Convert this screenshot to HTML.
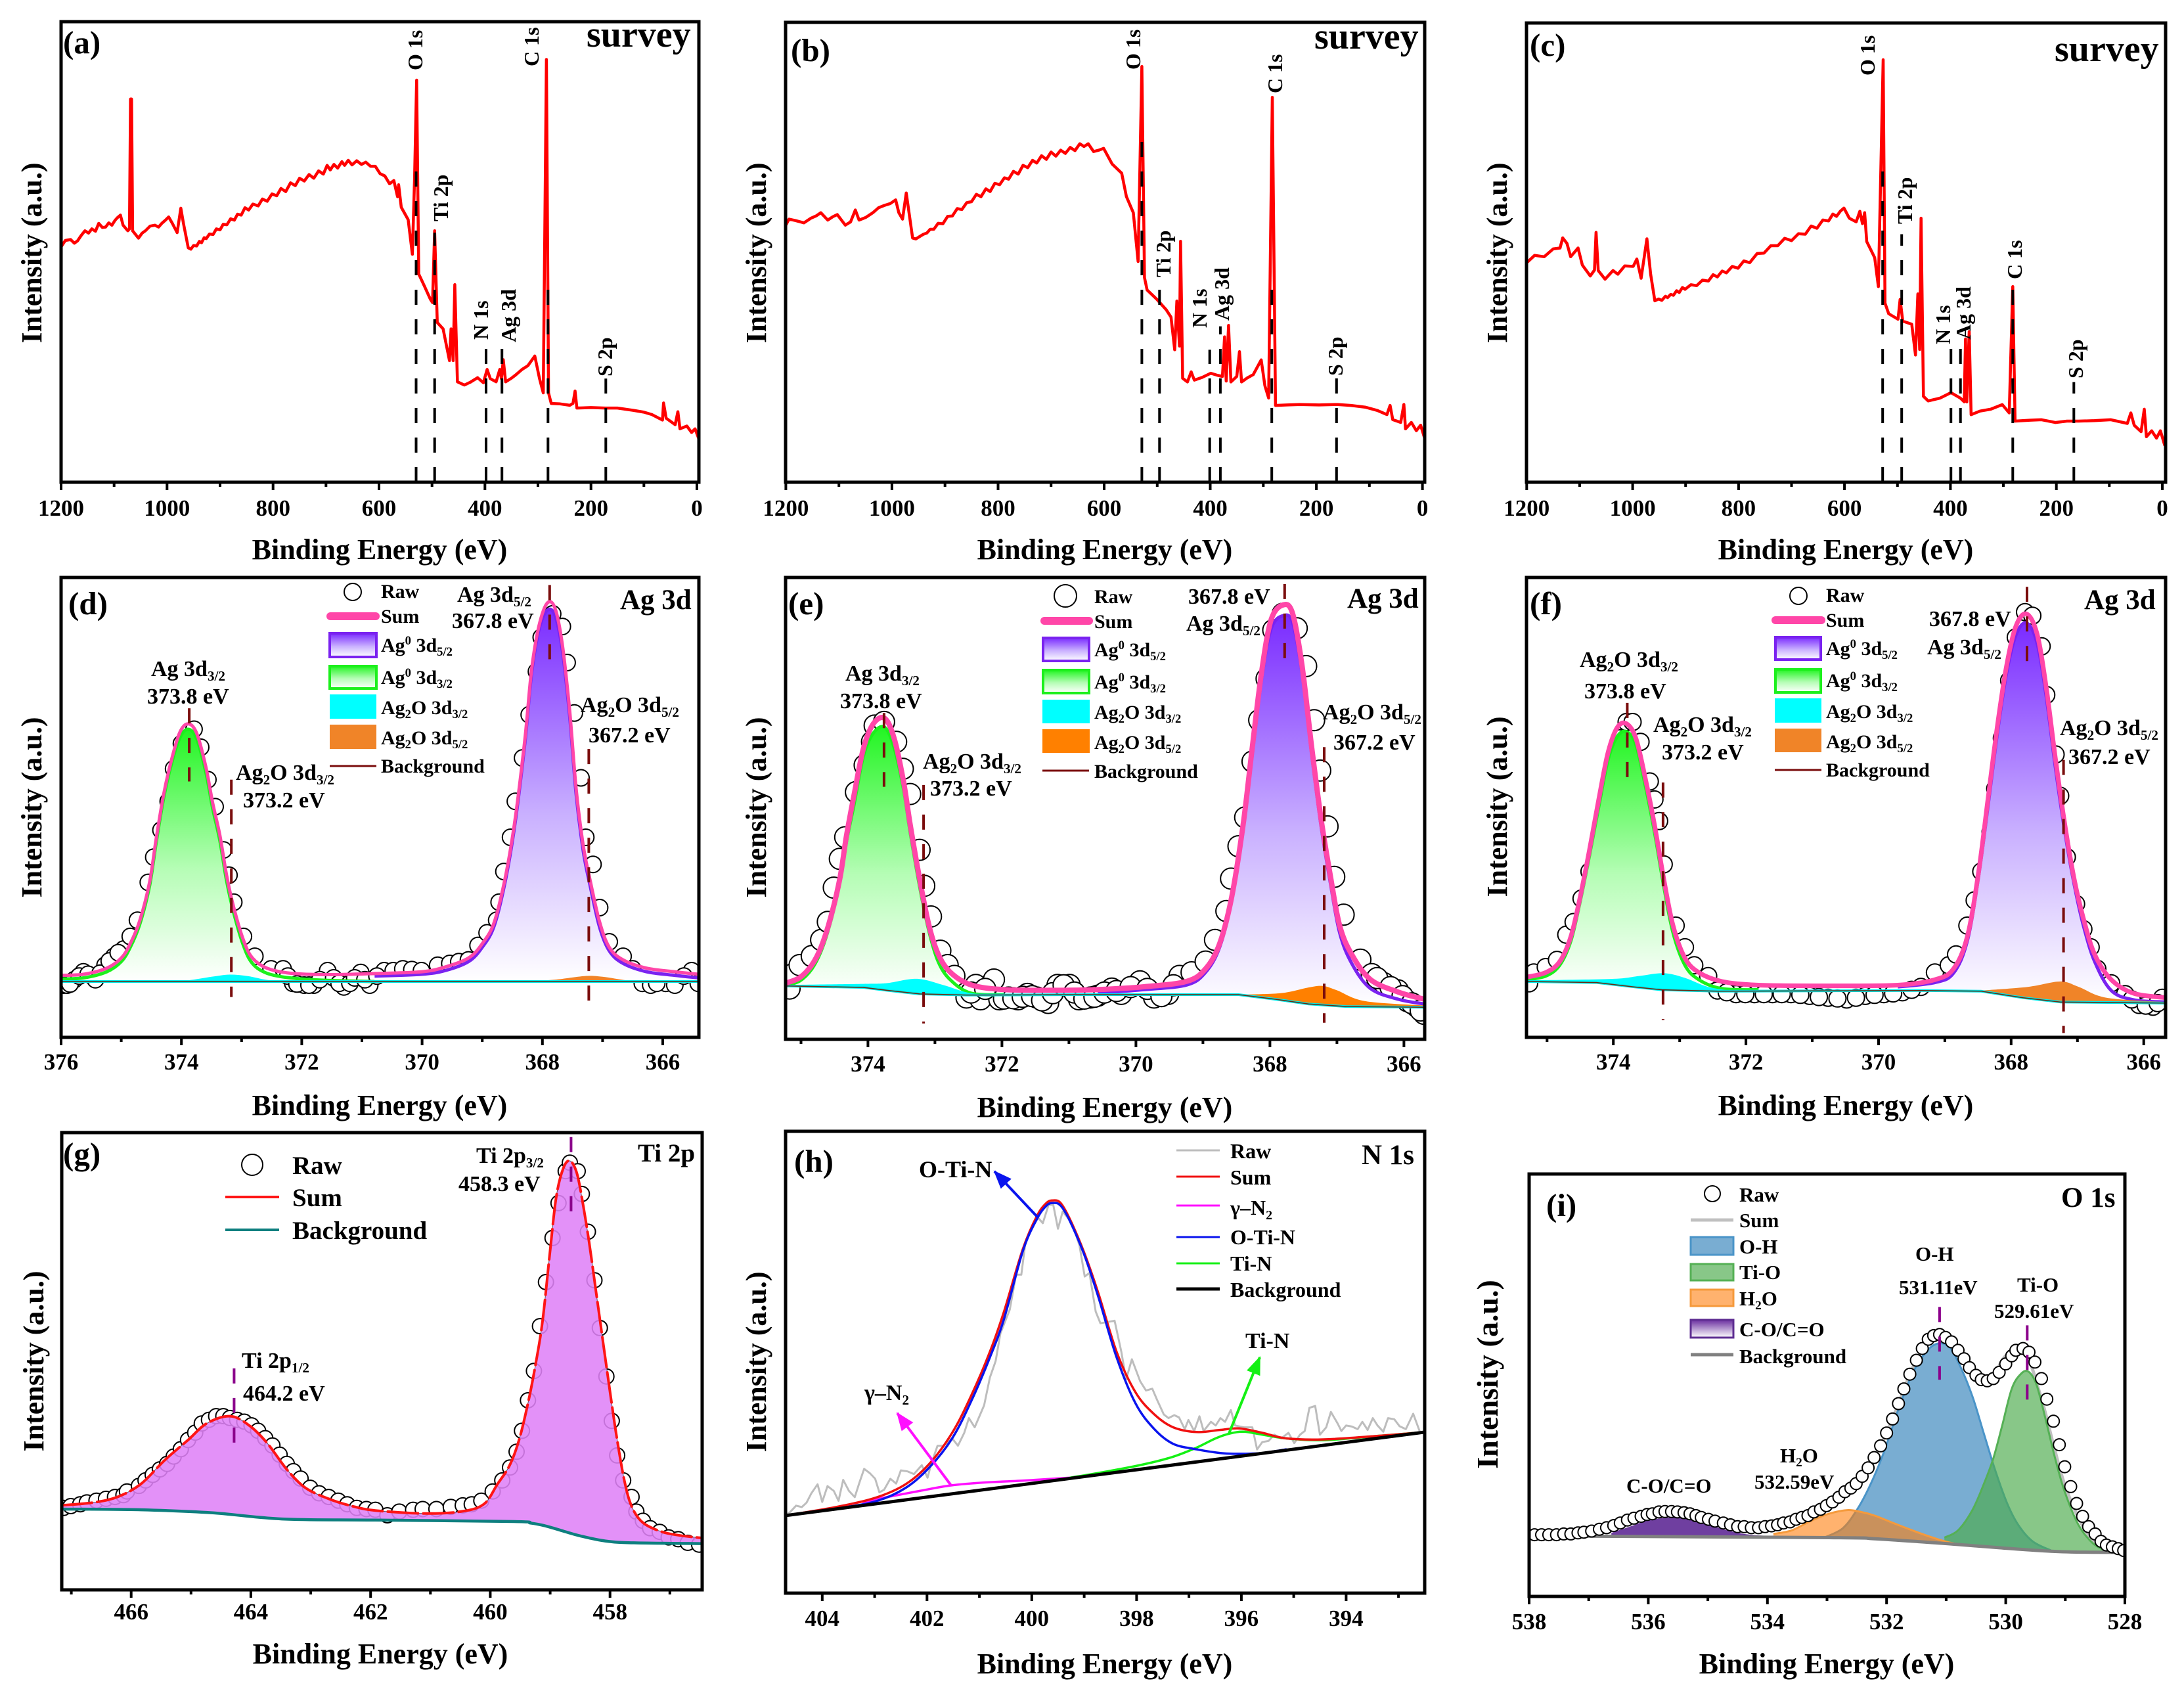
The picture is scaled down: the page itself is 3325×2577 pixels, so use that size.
<!DOCTYPE html>
<html lang="en">
<head>
<meta charset="utf-8">
<title>XPS spectra panels</title>
<style>
html,body{margin:0;padding:0;background:#fff}
svg{display:block}
text{font-family:"Liberation Serif",serif;font-weight:bold;fill:#000}
.at{font-size:44px}
.tk{font-size:35px}
.pl{font-size:49px}
.sv{font-size:56px}
.pk{font-size:32px}
.lg{font-size:30px}
.an{font-size:34px}
.rg{font-size:43px}
.l3{font-size:39px}
.l2{font-size:32px}
.i3{font-size:31px}
.s{font-size:62%}
</style>
</head>
<body>
<svg id="figure" xmlns="http://www.w3.org/2000/svg" width="3325" height="2577" viewBox="0 0 3325 2577">
<defs>
<linearGradient id="gradPurple" x1="0" y1="0" x2="0" y2="1"><stop offset="0" stop-color="#7a2bff"/><stop offset="0.55" stop-color="#c9b0ff"/><stop offset="1" stop-color="#ffffff"/></linearGradient>
<linearGradient id="gradGreen" x1="0" y1="0" x2="0" y2="1"><stop offset="0" stop-color="#22f522"/><stop offset="0.55" stop-color="#b5fdb5"/><stop offset="1" stop-color="#ffffff"/></linearGradient>
<linearGradient id="gradDeep" x1="0" y1="0" x2="0" y2="1"><stop offset="0" stop-color="#6a2fa0"/><stop offset="1" stop-color="#ffffff"/></linearGradient>
<clipPath id="clip-d"><rect x="93" y="879" width="971" height="700"/></clipPath>
<clipPath id="clip-e"><rect x="1196" y="879" width="973" height="703"/></clipPath>
<clipPath id="clip-f"><rect x="2324" y="879" width="973" height="700"/></clipPath>
<clipPath id="clip-g"><rect x="94" y="1724" width="975" height="696"/></clipPath>
<clipPath id="clip-h"><rect x="1196" y="1722" width="973" height="703"/></clipPath>
<clipPath id="clip-i"><rect x="2328" y="1787" width="907" height="643"/></clipPath>
<marker id="headBlue" markerUnits="userSpaceOnUse" markerWidth="30" markerHeight="24" refX="26" refY="12" orient="auto"><path d="M0 1 L28 12 L0 23 Z" fill="#0a14ee"/></marker>
<marker id="headMagenta" markerUnits="userSpaceOnUse" markerWidth="30" markerHeight="24" refX="26" refY="12" orient="auto"><path d="M0 1 L28 12 L0 23 Z" fill="#ff10ff"/></marker>
<marker id="headGreen" markerUnits="userSpaceOnUse" markerWidth="30" markerHeight="24" refX="26" refY="12" orient="auto"><path d="M0 1 L28 12 L0 23 Z" fill="#14f014"/></marker>
</defs>

<!-- Panel a -->
<g>
<g id="marks-a"></g>
<rect x="93" y="33" width="971" height="701" fill="none" stroke="#000" stroke-width="5"/>
<text class="pl" x="96" y="81">(a)</text>
<text class="sv" x="893" y="71">survey</text>
<text class="pk" transform="translate(643,107) rotate(-90)">O 1s</text>
<text class="pk" transform="translate(820,101) rotate(-90)">C 1s</text>
<text class="pk" transform="translate(682,337) rotate(-90)">Ti 2p</text>
<text class="pk" transform="translate(743,517) rotate(-90)">N 1s</text>
<text class="pk" transform="translate(785,521) rotate(-90)">Ag 3d</text>
<text class="pk" transform="translate(932,573) rotate(-90)">S 2p</text>
<text class="at" x="578" y="851" text-anchor="middle">Binding Energy (eV)</text>
<text class="at" transform="translate(63,385) rotate(-90)" text-anchor="middle">Intensity (a.u.)</text>
</g>

<!-- Panel b -->
<g>
<g id="marks-b"></g>
<rect x="1196" y="34" width="973" height="700" fill="none" stroke="#000" stroke-width="5"/>
<text class="pl" x="1204" y="93">(b)</text>
<text class="sv" x="2001" y="74">survey</text>
<text class="pk" transform="translate(1736,106) rotate(-90)">O 1s</text>
<text class="pk" transform="translate(1952,142) rotate(-90)">C 1s</text>
<text class="pk" transform="translate(1782,422) rotate(-90)">Ti 2p</text>
<text class="pk" transform="translate(1837,499) rotate(-90)">N 1s</text>
<text class="pk" transform="translate(1871,488) rotate(-90)">Ag 3d</text>
<text class="pk" transform="translate(2044,572) rotate(-90)">S 2p</text>
<text class="at" x="1682" y="851" text-anchor="middle">Binding Energy (eV)</text>
<text class="at" transform="translate(1166,385) rotate(-90)" text-anchor="middle">Intensity (a.u.)</text>
</g>

<!-- Panel c -->
<g>
<g id="marks-c"></g>
<rect x="2324" y="35" width="973" height="699" fill="none" stroke="#000" stroke-width="5"/>
<text class="pl" x="2329" y="85">(c)</text>
<text class="sv" x="3128" y="93">survey</text>
<text class="pk" transform="translate(2854,115) rotate(-90)">O 1s</text>
<text class="pk" transform="translate(3078,425) rotate(-90)">C 1s</text>
<text class="pk" transform="translate(2911,341) rotate(-90)">Ti 2p</text>
<text class="pk" transform="translate(2969,524) rotate(-90)">N 1s</text>
<text class="pk" transform="translate(3000,517) rotate(-90)">Ag 3d</text>
<text class="pk" transform="translate(3171,576) rotate(-90)">S 2p</text>
<text class="at" x="2810" y="851" text-anchor="middle">Binding Energy (eV)</text>
<text class="at" transform="translate(2294,385) rotate(-90)" text-anchor="middle">Intensity (a.u.)</text>
</g>

<!-- Panel d -->
<g>
<g id="marks-d" clip-path="url(#clip-d)"></g>
<rect x="93" y="879" width="971" height="700" fill="none" stroke="#000" stroke-width="5"/>
<text class="pl" x="104" y="935">(d)</text>
<text class="rg" x="944" y="927">Ag 3d</text>
<text class="an" x="230" y="1029">Ag 3d<tspan class="s" dy="7">3/2</tspan></text>
<text class="an" x="224" y="1071">373.8 eV</text>
<text class="an" x="359" y="1187">Ag<tspan class="s" dy="7">2</tspan><tspan dy="-7">O 3d</tspan><tspan class="s" dy="7">3/2</tspan></text>
<text class="an" x="370" y="1229">373.2 eV</text>
<text class="an" x="696" y="916">Ag 3d<tspan class="s" dy="7">5/2</tspan></text>
<text class="an" x="688" y="956">367.8 eV</text>
<text class="an" x="884" y="1084">Ag<tspan class="s" dy="7">2</tspan><tspan dy="-7">O 3d</tspan><tspan class="s" dy="7">5/2</tspan></text>
<text class="an" x="896" y="1130">367.2 eV</text>
<g>
<circle cx="537" cy="901" r="13" fill="#fff" stroke="#000" stroke-width="2"/>
<text class="lg" x="580" y="910">Raw</text>
<line x1="503" y1="938" x2="572" y2="938" stroke="#ff46a8" stroke-width="12" stroke-linecap="round"/>
<text class="lg" x="580" y="948">Sum</text>
<rect x="502" y="964" width="71" height="36" fill="url(#gradPurple)" stroke="#7a22f0" stroke-width="4"/>
<text class="lg" x="580" y="992">Ag<tspan class="s" dy="-11">0</tspan><tspan dy="11"> 3d</tspan><tspan class="s" dy="6">5/2</tspan></text>
<rect x="502" y="1014" width="71" height="34" fill="url(#gradGreen)" stroke="#1cf01c" stroke-width="4"/>
<text class="lg" x="580" y="1041">Ag<tspan class="s" dy="-11">0</tspan><tspan dy="11"> 3d</tspan><tspan class="s" dy="6">3/2</tspan></text>
<rect x="502" y="1057" width="71" height="37" fill="#00ffff"/>
<text class="lg" x="580" y="1087">Ag<tspan class="s" dy="6">2</tspan><tspan dy="-6">O 3d</tspan><tspan class="s" dy="6">3/2</tspan></text>
<rect x="502" y="1103" width="71" height="37" fill="#f08428"/>
<text class="lg" x="580" y="1133">Ag<tspan class="s" dy="6">2</tspan><tspan dy="-6">O 3d</tspan><tspan class="s" dy="6">5/2</tspan></text>
<line x1="502" y1="1166" x2="573" y2="1166" stroke="#7a0c0c" stroke-width="3"/>
<text class="lg" x="580" y="1176">Background</text>
</g>
<text class="at" x="578" y="1697" text-anchor="middle">Binding Energy (eV)</text>
<text class="at" transform="translate(63,1229) rotate(-90)" text-anchor="middle">Intensity (a.u.)</text>
</g>

<!-- Panel e -->
<g>
<g id="marks-e" clip-path="url(#clip-e)"></g>
<rect x="1196" y="879" width="973" height="703" fill="none" stroke="#000" stroke-width="5"/>
<text class="pl" x="1200" y="935">(e)</text>
<text class="rg" x="2051" y="925">Ag 3d</text>
<text class="an" x="1287" y="1036">Ag 3d<tspan class="s" dy="7">3/2</tspan></text>
<text class="an" x="1279" y="1078">373.8 eV</text>
<text class="an" x="1405" y="1170">Ag<tspan class="s" dy="7">2</tspan><tspan dy="-7">O 3d</tspan><tspan class="s" dy="7">3/2</tspan></text>
<text class="an" x="1416" y="1211">373.2 eV</text>
<text class="an" x="1809" y="919">367.8 eV</text>
<text class="an" x="1806" y="960">Ag 3d<tspan class="s" dy="7">5/2</tspan></text>
<text class="an" x="2014" y="1095">Ag<tspan class="s" dy="7">2</tspan><tspan dy="-7">O 3d</tspan><tspan class="s" dy="7">5/2</tspan></text>
<text class="an" x="2030" y="1141">367.2 eV</text>
<g>
<circle cx="1622" cy="907" r="17" fill="#fff" stroke="#000" stroke-width="2"/>
<text class="lg" x="1666" y="918">Raw</text>
<line x1="1590" y1="945" x2="1658" y2="945" stroke="#ff46a8" stroke-width="12" stroke-linecap="round"/>
<text class="lg" x="1666" y="956">Sum</text>
<rect x="1588" y="971" width="70" height="35" fill="url(#gradPurple)" stroke="#7a22f0" stroke-width="4"/>
<text class="lg" x="1666" y="999">Ag<tspan class="s" dy="-11">0</tspan><tspan dy="11"> 3d</tspan><tspan class="s" dy="6">5/2</tspan></text>
<rect x="1588" y="1020" width="70" height="35" fill="url(#gradGreen)" stroke="#1cf01c" stroke-width="4"/>
<text class="lg" x="1666" y="1048">Ag<tspan class="s" dy="-11">0</tspan><tspan dy="11"> 3d</tspan><tspan class="s" dy="6">3/2</tspan></text>
<rect x="1587" y="1065" width="72" height="36" fill="#00ffff"/>
<text class="lg" x="1666" y="1094">Ag<tspan class="s" dy="6">2</tspan><tspan dy="-6">O 3d</tspan><tspan class="s" dy="6">3/2</tspan></text>
<rect x="1587" y="1110" width="72" height="36" fill="#ff8000"/>
<text class="lg" x="1666" y="1140">Ag<tspan class="s" dy="6">2</tspan><tspan dy="-6">O 3d</tspan><tspan class="s" dy="6">5/2</tspan></text>
<line x1="1587" y1="1173" x2="1658" y2="1173" stroke="#7a0c0c" stroke-width="3"/>
<text class="lg" x="1666" y="1184">Background</text>
</g>
<text class="at" x="1682" y="1700" text-anchor="middle">Binding Energy (eV)</text>
<text class="at" transform="translate(1166,1229) rotate(-90)" text-anchor="middle">Intensity (a.u.)</text>
</g>

<!-- Panel f -->
<g>
<g id="marks-f" clip-path="url(#clip-f)"></g>
<rect x="2324" y="879" width="973" height="700" fill="none" stroke="#000" stroke-width="5"/>
<text class="pl" x="2329" y="935">(f)</text>
<text class="rg" x="3173" y="927">Ag 3d</text>
<text class="an" x="2405" y="1015">Ag<tspan class="s" dy="7">2</tspan><tspan dy="-7">O 3d</tspan><tspan class="s" dy="7">3/2</tspan></text>
<text class="an" x="2412" y="1063">373.8 eV</text>
<text class="an" x="2517" y="1114">Ag<tspan class="s" dy="7">2</tspan><tspan dy="-7">O 3d</tspan><tspan class="s" dy="7">3/2</tspan></text>
<text class="an" x="2530" y="1156">373.2 eV</text>
<text class="an" x="2937" y="953">367.8 eV</text>
<text class="an" x="2934" y="996">Ag 3d<tspan class="s" dy="7">5/2</tspan></text>
<text class="an" x="3136" y="1119">Ag<tspan class="s" dy="7">2</tspan><tspan dy="-7">O 3d</tspan><tspan class="s" dy="7">5/2</tspan></text>
<text class="an" x="3149" y="1163">367.2 eV</text>
<g>
<circle cx="2738" cy="907" r="13" fill="#fff" stroke="#000" stroke-width="2"/>
<text class="lg" x="2780" y="916">Raw</text>
<line x1="2703" y1="944" x2="2773" y2="944" stroke="#ff46a8" stroke-width="12" stroke-linecap="round"/>
<text class="lg" x="2780" y="954">Sum</text>
<rect x="2703" y="970" width="69" height="34" fill="url(#gradPurple)" stroke="#7a22f0" stroke-width="4"/>
<text class="lg" x="2780" y="997">Ag<tspan class="s" dy="-11">0</tspan><tspan dy="11"> 3d</tspan><tspan class="s" dy="6">5/2</tspan></text>
<rect x="2703" y="1019" width="69" height="35" fill="url(#gradGreen)" stroke="#1cf01c" stroke-width="4"/>
<text class="lg" x="2780" y="1046">Ag<tspan class="s" dy="-11">0</tspan><tspan dy="11"> 3d</tspan><tspan class="s" dy="6">3/2</tspan></text>
<rect x="2702" y="1063" width="71" height="37" fill="#00ffff"/>
<text class="lg" x="2780" y="1093">Ag<tspan class="s" dy="6">2</tspan><tspan dy="-6">O 3d</tspan><tspan class="s" dy="6">3/2</tspan></text>
<rect x="2702" y="1109" width="71" height="36" fill="#f08428"/>
<text class="lg" x="2780" y="1139">Ag<tspan class="s" dy="6">2</tspan><tspan dy="-6">O 3d</tspan><tspan class="s" dy="6">5/2</tspan></text>
<line x1="2702" y1="1172" x2="2773" y2="1172" stroke="#7a0c0c" stroke-width="3"/>
<text class="lg" x="2780" y="1182">Background</text>
</g>
<text class="at" x="2810" y="1697" text-anchor="middle">Binding Energy (eV)</text>
<text class="at" transform="translate(2294,1228) rotate(-90)" text-anchor="middle">Intensity (a.u.)</text>
</g>

<!-- Panel g -->
<g>
<g id="marks-g" clip-path="url(#clip-g)"></g>
<rect x="94" y="1724" width="975" height="696" fill="none" stroke="#000" stroke-width="5"/>
<text class="pl" x="96" y="1773">(g)</text>
<text class="l3" x="971" y="1768">Ti 2p</text>
<text class="an" x="725" y="1770">Ti 2p<tspan class="s" dy="7">3/2</tspan></text>
<text class="an" x="698" y="1813">458.3 eV</text>
<text class="an" x="368" y="2082">Ti 2p<tspan class="s" dy="7">1/2</tspan></text>
<text class="an" x="370" y="2132">464.2 eV</text>
<g>
<circle cx="384" cy="1773" r="16" fill="#fff" stroke="#000" stroke-width="2"/>
<text class="l3" x="445" y="1787">Raw</text>
<line x1="343" y1="1822" x2="425" y2="1822" stroke="#ff1515" stroke-width="4"/>
<text class="l3" x="445" y="1836">Sum</text>
<line x1="343" y1="1872" x2="425" y2="1872" stroke="#0e7f7f" stroke-width="4"/>
<text class="l3" x="445" y="1886">Background</text>
</g>
<text class="at" x="579" y="2532" text-anchor="middle">Binding Energy (eV)</text>
<text class="at" transform="translate(66,2072) rotate(-90)" text-anchor="middle">Intensity (a.u.)</text>
</g>

<!-- Panel h -->
<g>
<g id="marks-h" clip-path="url(#clip-h)"></g>
<line x1="1579" y1="1852" x2="1514" y2="1783" stroke="#0a14ee" stroke-width="4" marker-end="url(#headBlue)"/>
<line x1="1448" y1="2261" x2="1366" y2="2151" stroke="#ff10ff" stroke-width="4" marker-end="url(#headMagenta)"/>
<line x1="1871" y1="2182" x2="1918" y2="2066" stroke="#14f014" stroke-width="4" marker-end="url(#headGreen)"/>
<rect x="1196" y="1722" width="973" height="703" fill="none" stroke="#000" stroke-width="5"/>
<text class="pl" x="1209" y="1784">(h)</text>
<text class="rg" x="2073" y="1772">N 1s</text>
<text class="an" x="1399" y="1792" style="font-size:36px">O-Ti-N</text>
<text class="an" x="1316" y="2131">γ–N<tspan class="s" dy="7">2</tspan></text>
<text class="an" x="1896" y="2052">Ti-N</text>
<g>
<line x1="1791" y1="1751" x2="1857" y2="1751" stroke="#bdbdbd" stroke-width="3"/>
<text class="l2" x="1873" y="1763">Raw</text>
<line x1="1791" y1="1791" x2="1857" y2="1791" stroke="#f01010" stroke-width="3"/>
<text class="l2" x="1873" y="1803">Sum</text>
<line x1="1791" y1="1835" x2="1857" y2="1835" stroke="#ff10ff" stroke-width="3"/>
<text class="l2" x="1873" y="1849">γ–N<tspan class="s" dy="7">2</tspan></text>
<line x1="1791" y1="1883" x2="1857" y2="1883" stroke="#0a14ee" stroke-width="3"/>
<text class="l2" x="1873" y="1894">O-Ti-N</text>
<line x1="1791" y1="1923" x2="1857" y2="1923" stroke="#14f014" stroke-width="3"/>
<text class="l2" x="1873" y="1934">Ti-N</text>
<line x1="1791" y1="1962" x2="1857" y2="1962" stroke="#000" stroke-width="5"/>
<text class="l2" x="1873" y="1974">Background</text>
</g>
<text class="at" x="1682" y="2547" text-anchor="middle">Binding Energy (eV)</text>
<text class="at" transform="translate(1166,2073) rotate(-90)" text-anchor="middle">Intensity (a.u.)</text>
</g>

<!-- Panel i -->
<g>
<g id="marks-i" clip-path="url(#clip-i)"></g>
<rect x="2328" y="1787" width="907" height="643" fill="none" stroke="#000" stroke-width="5"/>
<text class="pl" x="2354" y="1851">(i)</text>
<text class="rg" x="3138" y="1837">O 1s</text>
<text class="i3" x="2916" y="1919">O-H</text>
<text class="i3" x="2891" y="1970">531.11eV</text>
<text class="i3" x="3071" y="1966">Ti-O</text>
<text class="i3" x="3036" y="2006">529.61eV</text>
<text class="i3" x="2710" y="2226">H<tspan class="s" dy="6">2</tspan><tspan dy="-6">O</tspan></text>
<text class="i3" x="2671" y="2266">532.59eV</text>
<text class="i3" x="2476" y="2272">C-O/C=O</text>
<g>
<circle cx="2607" cy="1817" r="12" fill="#fff" stroke="#000" stroke-width="2"/>
<text class="i3" x="2648" y="1829">Raw</text>
<line x1="2574" y1="1857" x2="2639" y2="1857" stroke="#c0c0c0" stroke-width="5"/>
<text class="i3" x="2648" y="1868">Sum</text>
<rect x="2574" y="1883" width="65" height="27" fill="#79add2" stroke="#4a94c8" stroke-width="3"/>
<text class="i3" x="2648" y="1908">O-H</text>
<rect x="2574" y="1924" width="65" height="25" fill="#88c788" stroke="#55b055" stroke-width="3"/>
<text class="i3" x="2648" y="1947">Ti-O</text>
<rect x="2574" y="1963" width="65" height="25" fill="#ffb26e" stroke="#f59a3c" stroke-width="3"/>
<text class="i3" x="2648" y="1987">H<tspan class="s" dy="6">2</tspan><tspan dy="-6">O</tspan></text>
<rect x="2574" y="2009" width="65" height="27" fill="url(#gradDeep)" stroke="#5e2d91" stroke-width="3"/>
<text class="i3" x="2648" y="2034">C-O/C=O</text>
<line x1="2574" y1="2062" x2="2639" y2="2062" stroke="#808080" stroke-width="5"/>
<text class="i3" x="2648" y="2075">Background</text>
</g>
<text class="at" x="2781" y="2547" text-anchor="middle">Binding Energy (eV)</text>
<text class="at" style="font-size:46px" transform="translate(2280,2092) rotate(-90)" text-anchor="middle">Intensity (a.u.)</text>
</g>
<g id="ticks-layer"></g>
</svg>

<script>
/* ---------- tick values ---------- */
const surveyMajorTicks = [1200,1000,800,600,400,200,0];
const surveyMinorTicks = [1100,900,700,500,300,100];
const ag3dMajorTicksD = [376,374,372,370,368,366];
const ag3dMinorTicksD = [375,373,371,369,367];
const ag3dMajorTicksEF = [374,372,370,368,366];
const ag3dMinorTicksEF = [375,373,371,369,367];
const ti2pMajorTicks = [466,464,462,460,458];
const ti2pMinorTicks = [467,465,463,461,459,457];
const n1sMajorTicks = [404,402,400,398,396,394];
const n1sMinorTicks = [403,401,399,397,395,393];
const o1sMajorTicks = [538,536,534,532,530,528];
const o1sMinorTicks = [537,535,533,531,529];

/* ---------- survey spectra: [binding energy eV, intensity a.u.] ---------- */
const surveyA = [[1200,51.1],[1192,52.5],[1182,52.7],[1175,51.9],[1169,52.4],[1162,53.6],[1155,54.6],[1148,54.1],[1142,55],[1135,54.5],[1129,56.2],[1122,55.3],[1116,55.4],[1110,56.3],[1104,55.8],[1098,56.9],[1094,57.4],[1088,58],[1083,55.8],[1074,54.6],[1071,55],[1069,83.2],[1067,83.2],[1065,54.6],[1054,53],[1047,54.1],[1041,54.6],[1032,55.6],[1023,55.8],[1016,55.4],[1010,56.2],[1003,56.9],[997,57.6],[990,56.2],[981,54.2],[974,59.5],[969,56.2],[960,50.9],[955,50.6],[950,51.4],[944,51.3],[939,52.3],[935,52],[930,53.1],[926,52.9],[920,53.9],[913,53.8],[907,55],[900,54.8],[894,56],[887,55.9],[880,57.2],[873,56.9],[867,58.2],[860,58],[853,59.6],[846,59.1],[838,60.4],[828,60],[820,61.5],[811,61],[802,62.6],[793,62.2],[785,63.8],[776,63.1],[767,65],[758,64.4],[750,66],[741,65.4],[732,66.8],[723,66],[714,67.6],[705,66.9],[698,68.8],[692,67.8],[685,69],[678,68.2],[670,69.6],[665,68.8],[658,69.9],[651,68.9],[642,69.8],[633,69],[625,69.5],[616,68.6],[607,68.6],[598,67],[589,66.5],[580,64.8],[572,65.5],[565,62],[563,64.6],[558,59.7],[545,57],[537,49.5],[533,65.6],[529,87.3],[525,45.2],[514,42.5],[503,39.7],[499,39],[495,54.6],[490,34.7],[479,33.3],[467,26.4],[464,33.3],[460,26.4],[457,42.9],[452,21.8],[439,21.1],[428,21.7],[414,22.7],[403,21.6],[396,24.5],[390,22.5],[379,21.8],[372,24.5],[369,22.5],[365.5,26.6],[361,21.8],[350,22.6],[342,23.3],[330,24.5],[319,25.3],[306,27.4],[297,22.5],[290,19.4],[284,91.8],[280,19.4],[275,17.1],[258,17],[240,16.7],[234,17.1],[230,19.8],[226.5,16.1],[200,16.2],[173,16.1],[150,16.1],[120,15.6],[100,15.2],[85,14.7],[65,13.5],[63,17.2],[58,13.9],[41,12.5],[36,15.3],[32,11.6],[19,12.2],[10,10.8],[3.5,11.6],[-3,9.6]];
const surveyB = [[1200,55.9],[1194,57.2],[1182,56.9],[1166,56.4],[1153,57.4],[1143,57.9],[1134,58.6],[1121,57],[1112,57.7],[1103,58.2],[1088,55.9],[1078,56.6],[1069,59.2],[1062,57],[1049,57.6],[1036,58.6],[1025,59.7],[1014,60.2],[1003,60.6],[993,61.4],[987,58.6],[980,57.2],[973,62.9],[961,53.1],[955,52.9],[948,53.4],[941,53.9],[934,54.2],[928,55],[921,55],[913,56.3],[904,56.2],[895,57.8],[886,57.9],[877,59.5],[868,59.3],[859,60.8],[850,61],[841,62.6],[832,62.1],[823,63.8],[815,63.2],[806,65],[797,64.7],[788,66.2],[780,65.9],[771,67.6],[762,67],[753,68.9],[744,68.4],[735,70],[727,69.4],[718,71],[709,70.2],[700,71.8],[691,70.9],[682,72.2],[673,71.5],[664,72.8],[655,72.1],[646,73.6],[638,73],[630,73.6],[620,71.9],[610,72.2],[601,72.6],[585,69.2],[567,67.2],[558,62.1],[545,58.6],[536,48],[529,90.4],[524,44.5],[519,41.8],[501,39.8],[483,37.5],[474,35.9],[467,28.8],[463,39.4],[458,29.6],[456,52.4],[452,22.6],[443,21.8],[436,24],[430,22.2],[415,22.8],[399,23.7],[388,23.3],[377,23],[373,31.6],[370,22],[365.5,34.1],[361,21.8],[350,23],[345,28.4],[341,21.8],[330,22.7],[319,23.4],[304,26.6],[297,21],[290,18.3],[283,83.7],[277,16.7],[255,16.8],[231,16.9],[195,16.8],[160,16.9],[135,16.7],[107,16.3],[85,15.6],[67,14.7],[61,16.7],[56,13.6],[41,13],[35,16.9],[32,11.6],[21,13],[11.5,11.2],[3.5,12.4],[-3.5,9.8]];
const surveyC = [[1198,48],[1185,49.4],[1167,49.1],[1150,50.8],[1137,51],[1132,53.2],[1124,52],[1117,49.1],[1103,51],[1095,47.3],[1080,44.9],[1072,46.2],[1069,54.4],[1065,46.1],[1052,44.2],[1037,46.1],[1028,45.3],[1015,47.1],[999,47],[992,48.6],[984,44.4],[973,53],[966,45.3],[958,39.5],[951,39.9],[945,39.6],[938,40.5],[934,40.2],[928,40.9],[923,40.7],[917,41.7],[912,41.3],[906,42.4],[901,42],[890,43],[879,42.8],[868,44],[857,43.8],[848,45.2],[840,44.7],[831,46],[823,45.6],[812,47],[801,46.6],[790,48.2],[779,47.8],[765,49.8],[752,49.9],[739,51.5],[726,51.5],[713,53.1],[700,52.6],[687,54.1],[674,54],[663,55.8],[652,55.3],[641,57.1],[630,56.9],[622,58.4],[615,57.9],[608,59],[601,59.7],[591,57.5],[578,56.7],[571,59],[566,56.3],[562,58.7],[558,52.4],[543,48.9],[536,42.6],[527,92],[523.5,39],[516.6,36.7],[499,35.5],[495,39.8],[490,35.1],[473,34.4],[466,27.7],[461.5,41],[458,28.9],[455.4,57.5],[451,18.7],[442,17.7],[420,18.3],[399,19.5],[381,18.3],[374,17.5],[371.5,31.2],[369,17.5],[364.5,32.8],[361,14.7],[344,15.5],[324,15.9],[302,16.9],[289,15.1],[282.3,42.6],[278,13.3],[250,13.5],[228,13.6],[202,13],[180,13.3],[158,13.3],[128,13.4],[97,13.6],[66,12.8],[59.4,15.1],[53,12.4],[40,11],[34,15.9],[30,9.9],[20,11.2],[11,9.6],[3.5,11.2],[-4.4,8.1]];

/* survey guide lines: [binding energy, intensity at upper end] */
const surveyGuidesA = [[530,67.9],[495,54.2],[398,29.6],[368,29.6],[281,42.1],[172,22.5]];
const surveyGuidesB = [[529,74.3],[495.6,42.9],[401,28.8],[381,33.9],[284,42.2],[162,22.6]];
const surveyGuidesC = [[528,68.1],[492,54],[399,29.6],[381,30.4],[282.3,42.2],[167,21.8]];

/* ---------- panel d ---------- */
const rawD = [[375.96,145],[375.9,145],[375.78,160],[375.63,182],[375.43,160],[375.27,200],[375.12,225],[374.96,245],[374.85,280],[374.73,325],[374.55,430],[374.46,500],[374.34,575],[374.22,655],[374.13,745],[374,815],[373.79,855],[373.68,805],[373.56,715],[373.44,640],[373.3,520],[373.21,450],[373.13,375],[372.97,280],[372.78,225],[372.51,190],[372.31,190],[372.15,150],[371.96,145],[371.8,145],[371.57,185],[371.3,140],[371.02,180],[370.87,145],[370.63,185],[370.48,185],[370.32,190],[370.17,188],[370.01,185],[369.74,200],[369.54,205],[369.39,210],[369.23,215],[369.07,255],[368.92,290],[368.76,325],[368.72,375],[368.64,460],[368.53,555],[368.45,655],[368.33,775],[368.22,895],[368.1,1015],[368.02,1110],[367.83,1175],[367.67,1140],[367.59,1040],[367.47,900],[367.36,720],[367.28,555],[367.16,480],[367.05,360],[366.89,265],[366.66,225],[366.34,150],[365.95,150],[365.8,145],[365.52,185],[365.41,150],[375.85,148],[375.7,170],[375.55,175],[375.35,178],[375.2,212],[375.05,235],[372.23,170],[372.08,148],[371.88,145],[371.7,160],[371.47,165],[371.38,150],[371.2,150],[371.12,165],[370.95,160],[370.75,170],[366.5,190],[366.2,145],[366.1,150],[365.65,170]];
const sumD = [[376.02,172],[375.63,175],[375.24,192],[375,220],[374.85,260],[374.69,325],[374.53,430],[374.42,550],[374.3,670],[374.18,760],[374.03,845],[373.89,870],[373.75,845],[373.6,755],[373.48,650],[373.36,560],[373.25,450],[373.13,360],[372.97,270],[372.82,220],[372.58,192],[372.19,178],[371.57,174],[370.79,177],[370.01,182],[369.62,195],[369.23,220],[369,260],[368.8,320],[368.61,450],[368.45,610],[368.29,830],[368.18,1020],[368.06,1140],[367.92,1205],[367.79,1190],[367.67,1090],[367.55,910],[367.44,690],[367.32,530],[367.2,430],[367.05,320],[366.89,250],[366.66,215],[366.27,192],[365.8,182],[365.41,175]];
const greenD = [[376.02,162],[375.63,165],[375.24,182],[375,210],[374.85,250],[374.69,315],[374.53,420],[374.42,540],[374.3,660],[374.18,750],[374.03,830],[373.89,855],[373.75,830],[373.6,740],[373.48,635],[373.36,545],[373.25,435],[373.13,345],[372.97,255],[372.82,205],[372.58,178],[372.19,165],[371.57,158],[370.79,155]];
const purpleD = [[370.79,170],[370.01,175],[369.62,185],[369.23,210],[369,250],[368.8,310],[368.61,440],[368.45,600],[368.29,820],[368.18,1010],[368.06,1130],[367.92,1185],[367.79,1170],[367.67,1075],[367.55,895],[367.44,675],[367.32,515],[367.2,415],[367.05,305],[366.89,240],[366.66,205],[366.27,182],[365.8,172],[365.41,165]];
const cyanD = [[374.3,155],[373.9,158],[373.5,168],[373.2,174],[372.9,170],[372.6,160],[372.3,155]];
const orangeD = [[368.3,155],[367.8,160],[367.3,170],[367,168],[366.6,158],[366.3,155]];
const backgroundD = [[376.02,155],[365.41,155]];
const guidesD = [[373.87,913,710],[373.17,715,112],[367.88,1255,1045],[367.23,800,102]];

/* ---------- panel e ---------- */
const rawE = [[375.17,141],[375.12,181],[375.02,206],[374.84,231],[374.7,276],[374.6,326],[374.51,421],[374.42,501],[374.34,561],[374.18,686],[374.05,761],[373.94,826],[373.9,871],[373.76,881],[373.58,826],[373.48,751],[373.37,681],[373.23,526],[373.16,426],[373.06,341],[372.92,246],[372.81,206],[372.71,176],[372.53,116],[372.39,151],[372.32,111],[372.12,166],[372.04,111],[371.9,116],[371.76,111],[371.62,126],[371.48,116],[371.31,101],[371.17,151],[370.99,151],[370.85,111],[370.68,116],[370.57,121],[370.36,141],[370.22,126],[369.94,161],[369.73,116],[369.52,126],[369.35,176],[369.17,186],[368.96,216],[368.82,276],[368.65,356],[368.58,446],[368.47,536],[368.37,616],[368.26,771],[368.16,886],[368.05,1001],[367.95,1136],[367.81,1181],[367.6,1141],[367.46,1036],[367.34,886],[367.25,746],[367.14,591],[367.04,451],[366.9,346],[366.65,221],[366.48,181],[366.3,156],[366.09,136],[365.95,106],[365.81,91],[365.7,71],[372.46,130],[372.25,140],[371.97,113],[371.83,114],[371.69,118],[371.55,120],[371.4,108],[371.24,128],[371.08,150],[370.92,130],[370.77,113],[370.62,118],[370.47,130],[370.29,134],[370.08,145],[369.83,140],[369.62,120],[369.44,150],[366.4,170],[366.2,145],[366.02,120],[365.88,100],[365.75,80]];
const sumE = [[375.23,156],[375.02,171],[374.84,206],[374.7,256],[374.56,336],[374.42,446],[374.32,566],[374.21,676],[374.07,806],[373.92,876],[373.75,891],[373.61,836],[373.47,716],[373.37,596],[373.23,446],[373.09,316],[372.95,236],[372.77,186],[372.46,151],[371.97,138],[371.27,136],[370.57,138],[369.87,146],[369.24,161],[368.96,196],[368.75,266],[368.57,396],[368.4,596],[368.26,816],[368.12,1026],[367.98,1166],[367.8,1206],[367.66,1181],[367.52,1036],[367.38,816],[367.24,616],[367.1,456],[366.96,316],[366.78,236],[366.5,166],[366.08,131],[365.69,111]];
const greenE = [[375.23,150],[375.02,162],[374.84,195],[374.7,245],[374.56,325],[374.42,435],[374.32,550],[374.21,650],[374.07,785],[373.92,850],[373.75,866],[373.61,810],[373.47,695],[373.37,575],[373.23,425],[373.09,300],[372.95,215],[372.77,165],[372.46,128],[371.97,124]];
const purpleE = [[370.57,128],[369.87,138],[369.24,151],[368.96,186],[368.75,256],[368.57,386],[368.4,581],[368.26,796],[368.12,1006],[367.98,1141],[367.8,1176],[367.66,1156],[367.52,1016],[367.38,796],[367.24,596],[367.1,436],[366.96,296],[366.78,211],[366.5,141],[366.08,111],[365.69,98]];
const cyanE = [[375.23,151],[374.07,154],[373.72,156],[373.27,168],[372.88,151],[372.46,128],[371.97,123]];
const orangeE = [[368.47,124],[367.84,128],[367.42,144],[367.21,148],[367,136],[366.58,106],[365.7,94]];
const backgroundE = [[375.23,148],[374.07,144],[373.72,136],[373.23,126],[372.53,123],[370.57,124],[368.47,124],[367.91,111],[367.42,98],[366.86,91],[365.7,89]];
const guidesE = [[373.76,906,701],[373.17,706,44],[367.78,1264,1056],[367.19,811,46]];

/* ---------- panel f ---------- */
const rawF = [[375.27,150],[375.2,180],[375.02,195],[374.85,215],[374.71,285],[374.6,320],[374.48,385],[374.36,460],[374.22,525],[374.11,660],[374.01,745],[373.9,830],[373.8,875],[373.71,875],[373.59,820],[373.45,710],[373.38,660],[373.31,600],[373.24,480],[373.06,310],[372.92,250],[372.78,200],[372.57,170],[372.43,130],[372.15,120],[371.87,120],[371.6,120],[371.32,120],[371.04,115],[370.76,110],[370.48,105],[370.2,115],[369.92,120],[369.64,125],[369.36,140],[369.15,180],[368.94,200],[368.83,230],[368.66,310],[368.55,380],[368.45,460],[368.31,570],[368.24,690],[368.14,830],[368.03,990],[367.93,1110],[367.79,1180],[367.68,1170],[367.54,1085],[367.47,950],[367.33,785],[367.26,670],[367.16,500],[367.02,370],[366.91,300],[366.8,250],[366.7,190],[366.28,120],[366.07,90],[365.86,85],[365.72,110],[372.29,125],[372.01,120],[371.73,120],[371.46,120],[371.18,118],[370.9,112],[370.62,108],[370.34,110],[370.06,118],[369.78,122],[369.5,132],[366.49,150],[366.18,105],[365.97,88],[365.79,95]];
const sumF = [[375.31,167],[375.02,180],[374.81,210],[374.64,280],[374.5,390],[374.36,520],[374.22,660],[374.08,790],[373.94,860],[373.8,870],[373.66,830],[373.52,720],[373.38,590],[373.24,440],[373.1,310],[372.92,220],[372.71,180],[372.36,155],[371.81,145],[370.76,143],[369.71,145],[369.15,160],[368.87,190],[368.66,280],[368.49,460],[368.35,660],[368.21,860],[368.07,1030],[367.93,1140],[367.77,1175],[367.61,1120],[367.47,970],[367.33,770],[367.19,590],[367.05,440],[366.91,330],[366.74,230],[366.49,160],[366.15,122],[365.67,110]];
const greenF = [[375.31,160],[375.02,170],[374.81,200],[374.64,268],[374.5,378],[374.36,505],[374.22,640],[374.08,770],[373.94,835],[373.8,848],[373.66,812],[373.52,700],[373.38,570],[373.24,420],[373.1,290],[372.92,200],[372.71,160],[372.36,135],[371.81,132]];
const purpleF = [[369.71,140],[369.15,152],[368.87,178],[368.66,268],[368.49,448],[368.35,640],[368.21,840],[368.07,1010],[367.93,1115],[367.77,1150],[367.61,1095],[367.47,945],[367.33,745],[367.19,570],[367.05,425],[366.91,310],[366.74,210],[366.49,130],[366.15,104],[365.67,98]];
const cyanF = [[375.31,158],[374.04,162],[373.62,170],[373.24,178],[372.92,165],[372.57,140],[372.15,128]];
const orangeF = [[368.45,130],[367.75,140],[367.26,155],[366.98,140],[366.56,110],[365.67,98]];
const backgroundF = [[375.31,155],[374.25,152],[373.69,140],[373.27,132],[372.43,128],[369.36,130],[368.45,128],[367.82,110],[367.26,98],[365.67,95]];
const guidesF = [[373.79,928,722],[373.25,707,48],[367.76,1250,1040],[367.21,770,12]];

/* ---------- panel g ---------- */
const rawG = [[467.13,223],[467.01,228],[466.85,233],[466.74,238],[466.58,243],[466.42,248],[466.27,253],[466.13,258],[466.07,268],[465.87,283],[465.76,298],[465.64,313],[465.52,328],[465.4,343],[465.29,363],[465.17,383],[465.05,408],[464.93,428],[464.82,453],[464.7,463],[464.58,473],[464.46,473],[464.35,468],[464.23,463],[464.11,458],[463.99,448],[463.88,433],[463.76,413],[463.64,393],[463.52,368],[463.4,343],[463.29,323],[463.17,303],[463.01,278],[462.86,263],[462.7,253],[462.54,243],[462.39,233],[462.23,223],[462.07,220],[461.92,218],[461.72,203],[461.52,213],[461.29,218],[461.13,220],[460.9,220],[460.66,226],[460.46,230],[460.31,233],[460.15,243],[459.96,268],[459.8,298],[459.67,333],[459.56,376],[459.47,433],[459.37,516],[459.27,596],[459.17,718],[459.07,838],[458.96,958],[458.86,1053],[458.74,1140],[458.67,1163],[458.54,1140],[458.47,1078],[458.37,975],[458.26,843],[458.17,713],[458.06,581],[457.97,460],[457.88,366],[457.78,298],[457.64,253],[457.56,213],[457.45,188],[457.33,168],[457.17,158],[457.02,143],[456.86,138],[456.7,128],[456.51,123]];
const sumG = [[467.16,230],[466.62,238],[466.23,253],[465.84,288],[465.44,353],[465.05,408],[464.74,453],[464.35,473],[464.03,448],[463.72,398],[463.4,328],[463.09,278],[462.7,248],[462.31,228],[461.92,216],[461.13,208],[460.5,213],[460.11,233],[459.88,288],[459.68,338],[459.52,408],[459.37,508],[459.25,608],[459.13,728],[459.01,908],[458.9,1068],[458.78,1148],[458.67,1168],[458.56,1138],[458.47,1068],[458.35,948],[458.23,808],[458.11,668],[457.99,528],[457.88,408],[457.76,298],[457.64,228],[457.45,183],[457.13,158],[456.82,148],[456.46,141]];
const backgroundG = [[467.16,220],[465.84,218],[464.66,210],[463.48,193],[461.92,190],[459.6,186],[459.33,182],[459.1,175],[458.78,160],[458.5,147],[458.08,133],[457.6,128],[456.46,126]];
const guidesG = [[464.28,603,400],[458.65,1233,1028]];

/* ---------- panel h ---------- */
const rawH = [[404.7,211],[404.61,221],[404.5,238],[404.39,234],[404.3,246],[404.21,271],[404.09,296],[404,248],[403.9,291],[403.78,278],[403.69,251],[403.6,308],[403.49,278],[403.38,261],[403.29,301],[403.2,338],[403.09,326],[402.99,311],[402.91,274],[402.82,281],[402.7,311],[402.59,298],[402.5,334],[402.37,331],[402.25,324],[402.1,348],[401.99,314],[401.92,351],[401.8,401],[401.68,401],[401.52,421],[401.41,401],[401.29,436],[401.2,476],[401.09,451],[400.91,511],[400.8,586],[400.69,631],[400.6,706],[400.42,771],[400.3,866],[400.2,866],[400.12,956],[399.99,996],[399.88,1021],[399.79,1006],[399.68,1056],[399.59,1056],[399.5,991],[399.41,1038],[399.23,1006],[399.09,946],[398.99,861],[398.9,871],[398.78,766],[398.69,734],[398.42,741],[398.29,656],[398.2,581],[398.09,636],[397.93,576],[397.82,551],[397.7,556],[397.61,526],[397.48,486],[397.39,476],[397.28,484],[397.19,478],[397.08,446],[397.01,471],[396.9,441],[396.8,481],[396.72,441],[396.58,466],[396.49,456],[396.4,476],[396.31,466],[396.2,498],[396.12,456],[395.95,451],[395.79,451],[395.7,391],[395.6,411],[395.48,414],[395.37,431],[395.24,421],[395.1,436],[394.99,408],[394.88,431],[394.79,441],[394.7,504],[394.59,509],[394.5,431],[394.38,451],[394.29,493],[394.16,461],[394.09,441],[394,456],[393.89,453],[393.78,446],[393.69,466],[393.59,444],[393.49,476],[393.4,456],[393.29,439],[393.2,476],[393.08,473],[392.98,454],[392.86,446],[392.72,488],[392.59,438]];
const sumH = [[404.7,211],[403.67,236],[402.95,261],[402.41,296],[401.96,351],[401.52,436],[401.16,536],[400.8,656],[400.53,766],[400.17,936],[399.9,1026],[399.72,1061],[399.59,1068],[399.45,1061],[399.27,1016],[399,926],[398.73,816],[398.38,656],[398.02,546],[397.66,486],[397.3,451],[396.85,438],[396.4,444],[396.04,448],[395.6,436],[395.15,421],[394.43,418],[393.35,428],[392.49,438]];
const oTiNH = [[404.7,211],[403.67,231],[402.95,251],[402.41,286],[401.96,341],[401.52,421],[401.16,521],[400.8,641],[400.53,746],[400.17,931],[399.9,1018],[399.72,1054],[399.59,1061],[399.45,1054],[399.27,1011],[399,921],[398.73,806],[398.38,641],[398.02,516],[397.66,446],[397.3,406],[396.85,391],[396.4,381],[396.04,379],[395.6,381],[395.15,391]];
const gammaN2H = [[403.22,248],[402.77,261],[402.14,278],[401.54,293],[400.89,301],[400.17,306],[399.27,314]];
const tiNH = [[399.27,314],[398.56,331],[397.84,351],[397.3,371],[396.85,396],[396.49,421],[396.22,434],[395.95,439],[395.6,431],[395.15,421],[394.43,416],[393.35,428],[392.49,438]];
const backgroundH = [[404.7,211],[392.49,438]];

/* ---------- panel i ---------- */
const rawI = [[537.91,168],[537.79,168],[537.67,168],[537.54,168],[537.42,170],[537.3,170],[537.18,173],[537.08,175],[536.95,178],[536.82,183],[536.7,187],[536.58,193],[536.47,200],[536.35,208],[536.24,213],[536.12,218],[536.02,223],[535.93,225],[535.82,230],[535.72,231],[535.61,231],[535.51,230],[535.4,228],[535.3,225],[535.2,220],[535.11,215],[534.99,210],[534.88,205],[534.74,200],[534.62,195],[534.5,190],[534.39,190],[534.27,187],[534.15,187],[534.04,190],[533.93,192],[533.83,195],[533.73,200],[533.62,203],[533.52,210],[533.42,215],[533.32,220],[533.22,230],[533.11,237],[533.01,247],[532.91,257],[532.8,270],[532.7,285],[532.6,295],[532.51,307],[532.41,327],[532.31,350],[532.21,378],[532.1,410],[532,445],[531.9,483],[531.8,525],[531.71,565],[531.61,605],[531.5,643],[531.4,675],[531.3,700],[531.21,710],[531.11,713],[531.01,705],[530.91,693],[530.8,670],[530.7,647],[530.61,623],[530.5,602],[530.41,590],[530.31,587],[530.21,593],[530.11,610],[530,633],[529.9,655],[529.83,670],[529.71,675],[529.61,665],[529.51,638],[529.4,593],[529.31,537],[529.2,477],[529.1,413],[529.01,353],[528.91,299],[528.81,253],[528.71,218],[528.61,190],[528.5,170],[528.4,150],[528.31,140],[528.21,135],[528.11,130],[528.02,125]];
const sumI = [[538,168],[536.7,187],[536,223],[535.6,231],[535,210],[534.3,187],[533.6,203],[533,247],[532.5,307],[532,445],[531.5,643],[531.1,713],[530.7,647],[530.3,590],[530,655],[529.7,675],[529.4,537],[529.2,413],[529,299],[528.7,190],[528.4,135],[528,125]];
const oHI = [[533.05,160],[532.74,185],[532.5,235],[532.27,305],[532.04,395],[531.81,505],[531.57,605],[531.34,665],[531.15,688],[530.95,680],[530.76,625],[530.56,545],[530.37,445],[530.18,345],[529.98,255],[529.79,195],[529.55,150],[529.24,125]];
const tiOI = [[531.03,160],[530.8,180],[530.56,235],[530.37,305],[530.21,375],[530.06,465],[529.9,565],[529.75,605],[529.62,612],[529.48,575],[529.32,475],[529.17,375],[529.01,285],[528.78,195],[528.54,145],[528.31,123]];
const h2oI = [[533.9,170],[533.59,180],[533.28,205],[532.97,225],[532.66,235],[532.43,230],[532.2,220],[531.89,200],[531.57,180],[531.26,162],[530.95,147],[530.56,137],[529.86,130]];
const coI = [[536.62,173],[536.31,190],[536,207],[535.61,215],[535.3,210],[534.99,195],[534.6,177],[534.22,167],[533.59,163]];
const backgroundI = [[538,165],[532.97,160],[532.2,157],[531.11,145],[529.24,123],[528,120]];
const guidesI = [[531.11,788,590],[529.64,738,535]];

/* ---------- panel layout ---------- */
const layout = {
  a:{x0:93,x1:1064,yb:734,yt:33,dom:[1200,-3.7],yMax:100,tickY:785},
  b:{x0:1196.4,x1:2168.6,yb:734,yt:34,dom:[1200,-3.7],yMax:100,tickY:785},
  c:{x0:2324.3,x1:3296.8,yb:734,yt:35,dom:[1200,-6],yMax:100,tickY:785},
  d:{x0:93,x1:1064,yb:1579,yt:879,dom:[376,365.4],yMax:1276,tickY:1628},
  e:{x0:1196,x1:2169,yb:1582,yt:879,dom:[375.23,365.69],yMax:1282,tickY:1631},
  f:{x0:2324,x1:3297,yb:1579,yt:879,dom:[375.31,365.67],yMax:1276,tickY:1628},
  g:{x0:94,x1:1069,yb:2420,yt:1724,dom:[467.16,456.46],yMax:1245,tickY:2465},
  h:{x0:1196,x1:2169,yb:2425,yt:1722,dom:[404.7,392.5],yMax:1256,tickY:2475},
  i:{x0:2328,x1:3235,yb:2430,yt:1787,dom:[538,528],yMax:1150,tickY:2480}
};

const SVG_NS = 'http://www.w3.org/2000/svg';

function xScale(key, v){
  const p = layout[key];
  return p.x0 + (p.dom[0]-v)/(p.dom[0]-p.dom[1])*(p.x1-p.x0);
}
function yScale(key, v){
  const p = layout[key];
  return p.yb - v/p.yMax*(p.yb-p.yt);
}
function make(parent, tag, attrs){
  const el = document.createElementNS(SVG_NS, tag);
  for(const k in attrs){ el.setAttribute(k, attrs[k]); }
  parent.appendChild(el);
  return el;
}
function toPixels(key, series){
  return series.map(function(d){ return [xScale(key,d[0]), yScale(key,d[1])]; });
}
function straightPath(pts){
  return 'M' + pts.map(function(p){ return p[0].toFixed(1)+' '+p[1].toFixed(1); }).join('L');
}
function smoothSegments(pts){
  let d = '';
  for(let i=0;i<pts.length-1;i++){
    const p0 = pts[Math.max(i-1,0)], p1 = pts[i], p2 = pts[i+1], p3 = pts[Math.min(i+2,pts.length-1)];
    const c1x = p1[0]+(p2[0]-p0[0])/6, c1y = p1[1]+(p2[1]-p0[1])/6;
    const c2x = p2[0]-(p3[0]-p1[0])/6, c2y = p2[1]-(p3[1]-p1[1])/6;
    d += 'C'+c1x.toFixed(1)+' '+c1y.toFixed(1)+' '+c2x.toFixed(1)+' '+c2y.toFixed(1)+' '+p2[0].toFixed(1)+' '+p2[1].toFixed(1);
  }
  return d;
}
function smoothPath(pts){
  return 'M'+pts[0][0].toFixed(1)+' '+pts[0][1].toFixed(1)+smoothSegments(pts);
}
function valueAt(series, be){
  if(be >= series[0][0]) return series[0][1];
  for(let i=0;i<series.length-1;i++){
    const a = series[i], b = series[i+1];
    if(be <= a[0] && be >= b[0]){
      return a[1]+(b[1]-a[1])*(a[0]-be)/(a[0]-b[0]);
    }
  }
  return series[series.length-1][1];
}
function drawLine(group, key, series, stroke, width, smooth, name, dash){
  const pts = toPixels(key, series);
  const el = make(group,'path',{d: smooth?smoothPath(pts):straightPath(pts), fill:'none', stroke:stroke, 'stroke-width':width, 'stroke-linejoin':'round', 'stroke-linecap':'round'});
  if(dash){ el.setAttribute('stroke-dasharray', dash); }
  
  
  return el;
}
function drawArea(group, key, series, baseline, fill, opacity, stroke, width, name){
  const pts = toPixels(key, series);
  let d = smoothPath(pts);
  for(let i=series.length-1;i>=0;i--){
    d += 'L'+pts[i][0].toFixed(1)+' '+yScale(key, valueAt(baseline, series[i][0])).toFixed(1);
  }
  d += 'Z';
  const area = make(group,'path',{d:d, fill:fill, 'fill-opacity':opacity});
  
  
  if(stroke){
    const edge = make(group,'path',{d:smoothPath(pts), fill:'none', stroke:stroke, 'stroke-width':width, 'stroke-linejoin':'round'});
    
    
  }
}
function drawRaw(group, key, series, radius, rawFill, rawStroke){
  series.forEach(function(d){
    const c = make(group,'circle',{cx:xScale(key,d[0]).toFixed(1), cy:yScale(key,d[1]).toFixed(1), r:radius, fill:rawFill, stroke:rawStroke, 'stroke-width':2});
    
    
  });
}
function drawGuide(group, key, be, upper, lower, color){
  const el = make(group,'line',{x1:xScale(key,be).toFixed(1), x2:xScale(key,be).toFixed(1), y1:yScale(key,upper).toFixed(1), y2:yScale(key,lower).toFixed(1), stroke:color, 'stroke-width':4, 'stroke-dasharray':'23 22'});
  
  
}
function drawSurveyGuide(group, key, be, upper){
  const el = make(group,'line',{x1:xScale(key,be).toFixed(1), x2:xScale(key,be).toFixed(1), y1:yScale(key,0).toFixed(1), y2:yScale(key,upper).toFixed(1), stroke:'#000', 'stroke-width':4, 'stroke-dasharray':'23 22'});
  
  
}
function drawTicks(key, majors, minors){
  const layer = document.getElementById('ticks-layer');
  const p = layout[key];
  majors.forEach(function(v){
    const x = xScale(key,v);
    const t = make(layer,'line',{x1:x.toFixed(1),x2:x.toFixed(1),y1:p.yb,y2:p.yb+12,stroke:'#000','stroke-width':4});
    
    
    const lab = make(layer,'text',{x:x.toFixed(1),y:p.tickY,'text-anchor':'middle','class':'tk'});
    lab.textContent = String(v);
    
    
  });
  minors.forEach(function(v){
    const x = xScale(key,v);
    const t = make(layer,'line',{x1:x.toFixed(1),x2:x.toFixed(1),y1:p.yb,y2:p.yb+7,stroke:'#000','stroke-width':4});
    
    
  });
}

function drawSurvey(key, series, guides){
  const g = document.getElementById('marks-'+key);
  drawLine(g, key, series, '#ff0000', 4.5, false, 'survey-spectrum');
  guides.forEach(function(s){ drawSurveyGuide(g, key, s[0], s[1]); });
  drawTicks(key, surveyMajorTicks, surveyMinorTicks);
}
function drawAg(key, raw, radius, green, purple, cyan, orange, background, sum, guides, sumWidth, orangeFill, majors){
  const g = document.getElementById('marks-'+key);
  drawRaw(g, key, raw, radius, '#fff', '#000');
  drawArea(g, key, green, background, 'url(#gradGreen)', 1, '#1cf01c', 5, 'ag0-3d32-peak');
  drawArea(g, key, purple, background, 'url(#gradPurple)', 1, '#7a22f0', 5, 'ag0-3d52-peak');
  drawArea(g, key, cyan, background, '#00ffff', 1, null, 0, 'ag2o-3d32-peak');
  drawArea(g, key, orange, background, orangeFill, 1, null, 0, 'ag2o-3d52-peak');
  drawLine(g, key, background, '#00e8e8', 4, false, 'background-glow');
  drawLine(g, key, background, '#6a2a10', 1.5, false, 'background-line');
  drawLine(g, key, sum, '#ff46a8', sumWidth, true, 'sum-fit');
  guides.forEach(function(s){ drawGuide(g, key, s[0], s[1], s[2], '#7a0c0c'); });
  drawTicks(key, majors, ag3dMinorTicksD);
}

drawSurvey('a', surveyA, surveyGuidesA);
drawSurvey('b', surveyB, surveyGuidesB);
drawSurvey('c', surveyC, surveyGuidesC);
drawAg('d', rawD, 12.5, greenD, purpleD, cyanD, orangeD, backgroundD, sumD, guidesD, 5, '#f08428', ag3dMajorTicksD);
drawAg('e', rawE, 16, greenE, purpleE, cyanE, orangeE, backgroundE, sumE, guidesE, 8, '#ff8000', ag3dMajorTicksEF);
drawAg('f', rawF, 13, greenF, purpleF, cyanF, orangeF, backgroundF, sumF, guidesF, 7, '#f08428', ag3dMajorTicksEF);

(function(){
  const g = document.getElementById('marks-g');
  drawRaw(g, 'g', rawG, 11.5, '#fff', '#000');
  drawArea(g, 'g', sumG, backgroundG, '#df82f7', 0.88, '#555', 1, 'ti2p-envelope');
  drawLine(g, 'g', sumG, '#ff1515', 4, true, 'sum-fit', '46 8');
  drawLine(g, 'g', backgroundG, '#0e7f7f', 4.5, true, 'background-line');
  guidesG.forEach(function(s){ drawGuide(g, 'g', s[0], s[1], s[2], '#8b008b'); });
  drawTicks('g', ti2pMajorTicks, ti2pMinorTicks);
})();

(function(){
  const g = document.getElementById('marks-h');
  drawLine(g, 'h', rawH, '#bdbdbd', 3, false, 'raw-spectrum');
  drawLine(g, 'h', gammaN2H, '#ff10ff', 3.5, true, 'gamma-n2-component');
  drawLine(g, 'h', tiNH, '#14f014', 3.5, true, 'ti-n-component');
  drawLine(g, 'h', sumH, '#f01010', 3.5, true, 'sum-fit');
  drawLine(g, 'h', oTiNH, '#0a14ee', 3.5, true, 'o-ti-n-component');
  drawLine(g, 'h', backgroundH, '#000', 5, false, 'background-line');
  drawTicks('h', n1sMajorTicks, n1sMinorTicks);
})();

(function(){
  const g = document.getElementById('marks-i');
  drawLine(g, 'i', sumI, '#bfbfbf', 5, true, 'sum-fit');
  drawArea(g, 'i', coI, backgroundI, '#6f3fa0', 1, null, 0, 'c-o-peak');
  drawArea(g, 'i', oHI, backgroundI, '#1f77b4', 0.6, '#4a94c8', 3, 'o-h-peak');
  drawArea(g, 'i', tiOI, backgroundI, '#4eab4e', 0.67, '#55b055', 3, 'ti-o-peak');
  drawArea(g, 'i', h2oI, backgroundI, '#ff7f0e', 0.6, '#f59a3c', 3, 'h2o-peak');
  drawLine(g, 'i', backgroundI, '#808080', 5, true, 'background-line');
  drawRaw(g, 'i', rawI, 9, '#fff', '#000');
  guidesI.forEach(function(s){ drawGuide(g, 'i', s[0], s[1], s[2], '#8b008b'); });
  drawTicks('i', o1sMajorTicks, o1sMinorTicks);
})();
</script>
</body>
</html>
